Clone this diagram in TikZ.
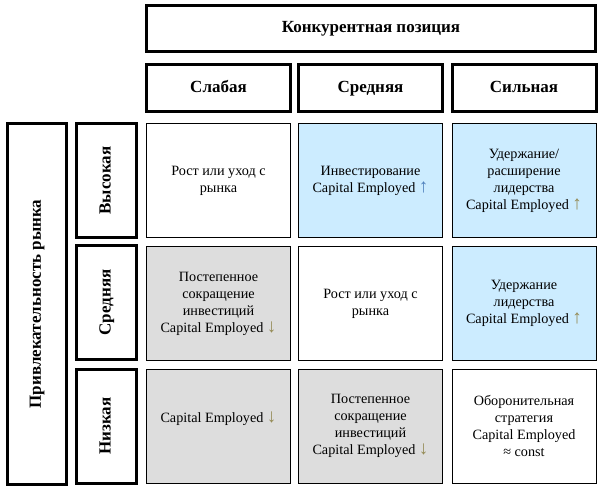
\documentclass[tikz,border=0pt]{standalone}
\usepackage{fontspec}
\setmainfont{Liberation Serif}
\definecolor{cellblue}{HTML}{CCECFF}
\definecolor{cellgrey}{HTML}{DDDDDD}
\definecolor{upblue}{HTML}{4F81BD}
\definecolor{arrowgrey}{HTML}{948A54}
\begin{document}
\begin{tikzpicture}[x=1pt,y=-1pt,
  head/.style={draw,line width=3pt,inner sep=0pt,minimum width=144pt,minimum height=47pt,text height=11.5pt,text depth=3.5pt,font=\fontsize{17}{20}\selectfont\bfseries},
  side/.style={draw,line width=3pt,inner sep=0pt,rotate=90,minimum width=114pt,minimum height=60pt,text height=11.5pt,text depth=3.5pt,font=\fontsize{17}{20}\selectfont\bfseries},
  cell/.style={draw,line width=0.8pt,inner sep=0pt,minimum width=144pt,minimum height=114pt,align=center,font=\fontsize{14.2}{17}\selectfont}]
\useasboundingbox(0,0)rectangle(603,490);
%column headers
\node[head,minimum width=449pt,minimum height=46pt](pos)at(371,28.5){Конкурентная позиция};
\foreach \n/\x/\t in {weak/218.5/Слабая,mid/370.5/Средняя,strong/524/Сильная}{\node[head](\n)at(\x,88){\t};}
%row headers
\node[side,minimum width=361pt,minimum height=59pt](attr)at(37,304){Привлекательность рынка};
\foreach \n/\y/\t in {high/180.5/Высокая,medium/302.5/Средняя,low/426/Низкая}{\node[side](\n)at(106.5,\y){\t};}
%cells
\def\up{{\fontsize{19}{17}\selectfont\color{upblue}↑}}
\def\upg{{\fontsize{19}{17}\selectfont\color{arrowgrey}↑}}
\def\dn{{\fontsize{19}{17}\selectfont\color{arrowgrey}↓}}
\foreach \n/\x/\y/\f/\t in {
  a1/218.5/180.5/white/{Рост или уход с\\рынка},
  a2/370.5/180.5/cellblue/{Инвестирование\\Capital Employed \up},
  a3/524/180.5/cellblue/{Удержание/\\расширение\\лидерства\\Capital Employed \upg},
  b1/218.5/303.5/cellgrey/{Постепенное\\сокращение\\инвестиций\\Capital Employed \dn},
  b2/370.5/303.5/white/{Рост или уход с\\рынка},
  b3/524/303.5/cellblue/{Удержание\\лидерства\\Capital Employed \upg},
  c1/218.5/426/cellgrey/{Capital Employed \dn\\~},
  c2/370.5/426/cellgrey/{Постепенное\\сокращение\\инвестиций\\Capital Employed \dn},
  c3/524/426/white/{Оборонительная\\стратегия\\Capital Employed\\≈ const}}
  {\node[cell,fill=\f](\n)at(\x,\y){\t};}
\end{tikzpicture}
\end{document}
